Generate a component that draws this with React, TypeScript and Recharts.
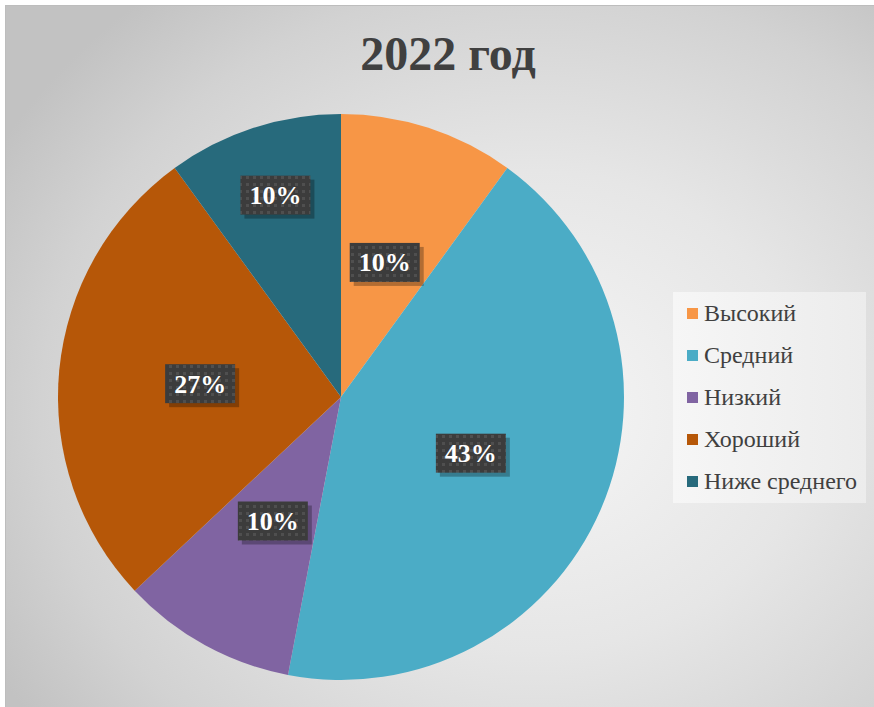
import React from 'react'
import { PieChart, Pie, Cell, Legend } from 'recharts'

const categories = ['Высокий', 'Средний', 'Низкий', 'Хороший', 'Ниже среднего']
const values = [10, 43, 10, 27, 10]
const COLORS = ['#f79646', '#4bacc6', '#8064a2', '#b65708', '#276a7c']

const data = categories.map((name, i) => ({ name, value: values[i] }))

const RADIAN = Math.PI / 180
const FONT = 'Liberation Serif'

const renderLabel = (props: any) => {
  const { cx, cy, midAngle, outerRadius, percent, index } = props
  // the last slice label sits further out, as in the original
  const ratio = index === 4 ? 0.75 : 0.5
  const r = outerRadius * ratio
  const x = cx + r * Math.cos(-midAngle * RADIAN)
  const y = cy + r * Math.sin(-midAngle * RADIAN)
  const w = 70
  const h = 39
  return (
    <g key={`lbl-${index}`}>
      <rect x={x - w / 2 + 4} y={y - h / 2 + 4} width={w} height={h} fill="rgba(0,0,0,0.28)" />
      <rect x={x - w / 2} y={y - h / 2} width={w} height={h} fill="url(#dots)" />
      <text
        x={x}
        y={y}
        dy={9}
        textAnchor="middle"
        fill="#ffffff"
        style={{ fontFamily: FONT, fontWeight: 'bold', fontSize: 26 }}
      >
        {`${Math.round(percent * 100)}%`}
      </text>
    </g>
  )
}

const renderLegend = () => (
  <div
    style={{
      width: 193,
      height: 211,
      background: 'linear-gradient(90deg, #f6f6f6, #ececec)',
      boxSizing: 'border-box',
    }}
  >
    {categories.map((name, i) => (
      <div
        key={`leg-${i}`}
        style={{
          height: 42,
          display: 'flex',
          alignItems: 'center',
          paddingLeft: 14,
          fontFamily: FONT,
          fontSize: 24,
          color: '#404040',
          whiteSpace: 'nowrap',
        }}
      >
        <span
          style={{
            display: 'inline-block',
            width: 11,
            height: 11,
            background: COLORS[i],
            marginRight: 6,
          }}
        />
        {name}
      </div>
    ))}
  </div>
)

export default function App() {
  return (
    <div
      style={{
        position: 'absolute',
        left: 5,
        top: 5,
        width: 880,
        height: 710,
        border: '1px solid #bdbdbd',
        background:
          'radial-gradient(ellipse 70% 75% at 60% 57%, #f6f6f6 0%, #e6e6e6 45%, #d2d2d2 80%, #c2c2c2 100%)',
        overflow: 'hidden',
      }}
    >
      <div
        style={{
          position: 'absolute',
          left: 0,
          width: 884,
          top: 20,
          textAlign: 'center',
          fontFamily: FONT,
          fontWeight: 'bold',
          fontSize: 48,
          color: '#404040',
          lineHeight: '56px',
        }}
      >
        2022 год
      </div>
      <PieChart width={880} height={710} margin={{ top: 0, right: 0, bottom: 0, left: 0 }}>
        <defs>
          <pattern id="dots" width="7" height="7" patternUnits="userSpaceOnUse">
            <rect width="7" height="7" fill="#3c3c3c" />
            <rect x="2" y="2" width="3" height="3" fill="#4f4f4f" />
          </pattern>
        </defs>
        <Pie
          data={data}
          dataKey="value"
          nameKey="name"
          cx={335}
          cy={391}
          outerRadius={283}
          startAngle={90}
          endAngle={-270}
          stroke="none"
          label={renderLabel}
          labelLine={false}
          isAnimationActive={false}
        >
          {data.map((entry, index) => (
            <Cell key={`cell-${index}`} fill={COLORS[index % COLORS.length]} />
          ))}
        </Pie>
        <Legend
          content={renderLegend}
          layout="vertical"
          wrapperStyle={{ position: 'absolute', left: 667, top: 286, width: 193 }}
        />
      </PieChart>
    </div>
  )
}
